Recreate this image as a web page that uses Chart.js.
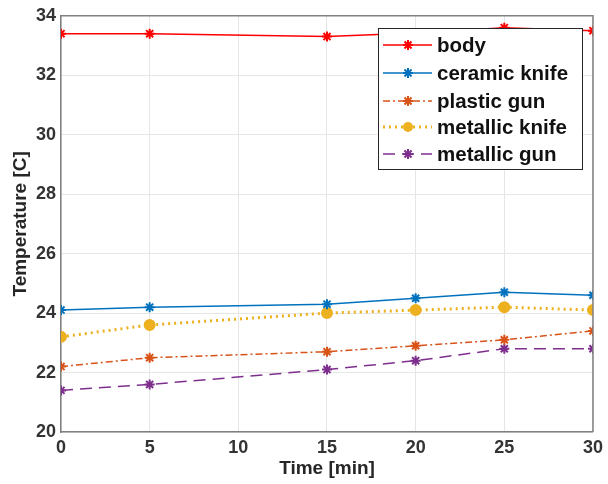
<!DOCTYPE html>
<html><head><meta charset="utf-8">
<script src="https://cdn.jsdelivr.net/npm/chart.js@4/dist/chart.umd.min.js"></script>
<style>html,body{margin:0;padding:0;background:#fff}#wrap{width:608px;height:484px;position:relative}</style>
</head><body><div id="wrap"><canvas id="c" width="608" height="484"></canvas></div>
<script>
const times = [0, 5, 15, 20, 25, 30];
const seriesNames = ['body', 'ceramic knife', 'plastic gun', 'metallic knife', 'metallic gun'];
const body = [33.4, 33.4, 33.3, 33.42, 33.6, 33.5];
const ceramicKnife = [24.1, 24.2, 24.3, 24.5, 24.7, 24.6];
const plasticGun = [22.2, 22.5, 22.7, 22.9, 23.1, 23.4];
const metallicKnife = [23.2, 23.6, 24.0, 24.1, 24.2, 24.1];
const metallicGun = [21.4, 21.6, 22.1, 22.4, 22.8, 22.8];
const xTicks = [0, 5, 10, 15, 20, 25, 30];
const yTicks = [20, 22, 24, 26, 28, 30, 32, 34];

const styles = [
  {color:'#FF0000', dash:[], width:1.5, point:'star', r:5},
  {color:'#0072BD', dash:[], width:1.5, point:'star', r:5},
  {color:'#D95319', dash:[7,3,2,3], width:1.5, point:'star', r:5},
  {color:'#EDB120', dash:[2,4], width:3, point:'circle', r:5},
  {color:'#7E2F8E', dash:[12,7], width:1.5, point:'star', r:5}
];
const values = [body, ceramicKnife, plasticGun, metallicKnife, metallicGun];

const datasets = values.map((v,i)=>({
  label: seriesNames[i],
  data: times.map((t,j)=>({x:t, y:v[j]})),
  borderColor: styles[i].color,
  backgroundColor: styles[i].color,
  borderWidth: styles[i].width,
  borderDash: styles[i].dash,
  pointStyle: styles[i].point,
  pointRadius: styles[i].r,
  pointBorderWidth: 2,
  pointBorderColor: styles[i].color,
  pointBackgroundColor: styles[i].color,
  tension: 0
}));

const legendPlugin = {
  id:'insideLegend',
  afterDraw(chart){
    const ctx = chart.ctx;
    const x0 = 378, y0 = 28, w = 204, h = 141;
    ctx.save();
    ctx.fillStyle = '#fff';
    ctx.fillRect(x0, y0, w, h);
    ctx.strokeStyle = '#262626';
    ctx.lineWidth = 1;
    ctx.strokeRect(x0+0.5, y0+0.5, w, h);
    ctx.font = 'bold 20.5px Arial, "Liberation Sans", sans-serif';
    ctx.textBaseline = 'middle';
    ctx.textAlign = 'left';
    const rows = [45, 73, 101, 127, 154];
    seriesNames.forEach((name,i)=>{
      const s = styles[i];
      const y = rows[i];
      ctx.strokeStyle = s.color;
      ctx.lineWidth = s.width;
      ctx.setLineDash(s.dash);
      ctx.beginPath(); ctx.moveTo(383, y); ctx.lineTo(432, y); ctx.stroke();
      ctx.setLineDash([]);
      ctx.lineWidth = 2;
      if (s.point === 'circle') {
        ctx.fillStyle = s.color;
        ctx.beginPath(); ctx.arc(408, y, 5, 0, Math.PI*2); ctx.fill();
      } else {
        for (let k=0;k<4;k++){
          const a = k*Math.PI/4;
          ctx.beginPath();
          ctx.moveTo(408 - 5*Math.cos(a), y - 5*Math.sin(a));
          ctx.lineTo(408 + 5*Math.cos(a), y + 5*Math.sin(a));
          ctx.stroke();
        }
      }
      ctx.fillStyle = '#111';
      ctx.fillText(name, 437, y+1);
    });
    ctx.restore();
  }
};

const tickFont = {family:'Arial, "Liberation Sans", sans-serif', size:18, weight:'bold'};
const titleFont = {family:'Arial, "Liberation Sans", sans-serif', size:19, weight:'bold'};
new Chart(document.getElementById('c'), {
  type:'line',
  data:{datasets},
  options:{
    responsive:false,
    animation:false,
    layout:{padding:{top:15, right:15, left:0, bottom:0}},
    plugins:{legend:{display:false}, tooltip:{enabled:false}},
    scales:{
      x:{
        type:'linear', min:0, max:30,
        afterBuildTicks(s){ s.ticks = xTicks.map(v=>({value:v})); },
        afterFit(s){ s.height = 52; },
        ticks:{font:tickFont, color:'#333', padding:5, maxRotation:0},
        grid:{color:'#e6e6e6', drawTicks:false, lineWidth:1},
        border:{color:'#808080', width:1.5},
        title:{display:true, text:'Time [min]', font:titleFont, color:'#262626', padding:{top:0,bottom:4}}
      },
      y:{
        type:'linear', min:20, max:34,
        afterBuildTicks(s){ s.ticks = yTicks.map(v=>({value:v})); },
        afterFit(s){ s.width = 61; },
        ticks:{font:tickFont, color:'#333', padding:5},
        grid:{color:'#e6e6e6', drawTicks:false, lineWidth:1},
        border:{color:'#808080', width:1.5},
        title:{display:true, text:'Temperature [C]', font:titleFont, color:'#262626', padding:{top:9,bottom:0}}
      }
    }
  },
  plugins:[legendPlugin, {
    id:'frame',
    afterDatasetsDraw(chart){
      const a = chart.chartArea, ctx = chart.ctx;
      ctx.save(); ctx.strokeStyle='#808080'; ctx.lineWidth=1.5;
      ctx.beginPath(); ctx.moveTo(a.left, a.top); ctx.lineTo(a.right, a.top); ctx.lineTo(a.right, a.bottom); ctx.stroke();
      ctx.restore();
    }
  }]
});
</script></body></html>
